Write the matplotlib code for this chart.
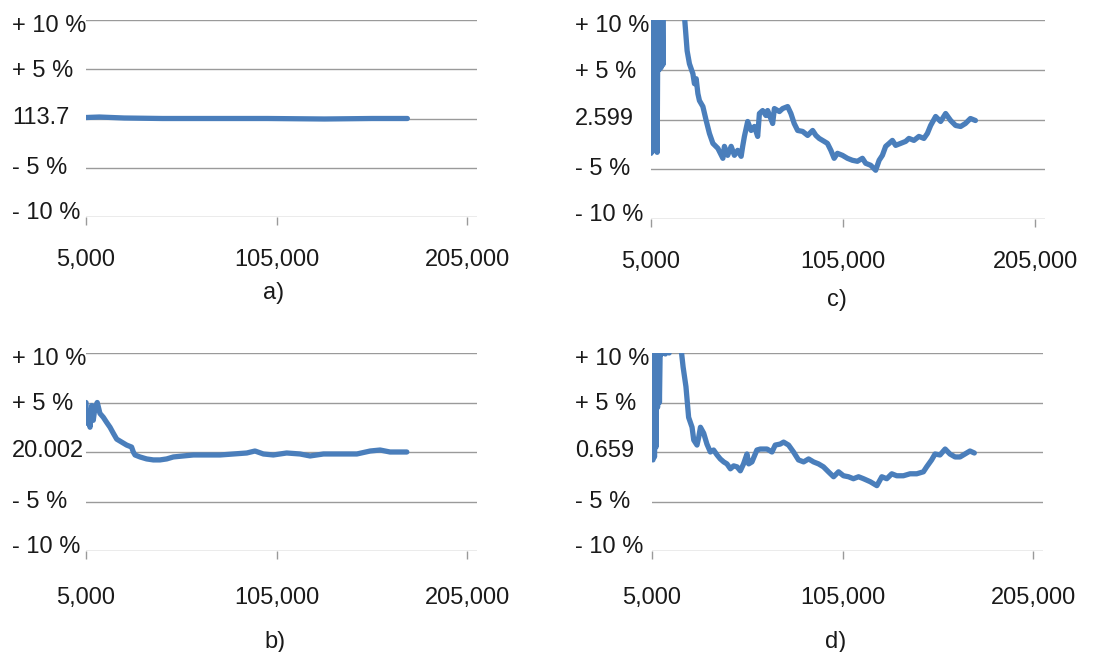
import matplotlib
matplotlib.use('Agg')
import matplotlib.pyplot as plt
import matplotlib.transforms as mtransforms

# convergence of four estimates, deviation from final value in %
x_a = [5000, 12000, 25000, 45000, 70000, 100000, 130000, 155000, 173500]
y_a = [0.1, 0.15, 0.05, 0.0, 0.0, 0.0, -0.05, 0.0, 0.0]

x_b = [5000, 5300, 6200, 7100, 8000, 8800, 9700, 10900, 12300, 14100, 15800,
       17600, 19300, 21100, 23700, 26300, 28900, 29800, 30700, 33300, 36800,
       40300, 43800, 47300, 50800, 56000, 61300, 68300, 75300, 82300, 89300,
       93600, 98000, 103200, 110200, 117200, 122500, 129500, 138200, 147000,
       154000, 159200, 164400, 173200]
y_b = [5.0, 2.9, 3.9, 2.5, 4.7, 3.2, 4.5, 5.0, 3.9, 3.5, 3.0,
       2.5, 1.9, 1.3, 1.0, 0.7, 0.5, 0.0, -0.3, -0.5, -0.7,
       -0.8, -0.8, -0.7, -0.5, -0.4, -0.3, -0.3, -0.3, -0.2, -0.1,
       0.1, -0.2, -0.3, -0.1, -0.2, -0.4, -0.2, -0.2, -0.2,
       0.1, 0.2, 0.0, 0.0]

x_c = [5000, 5400, 5800, 6200, 6600, 7000, 7400, 7800, 8200, 8700, 9200,
       9700, 10200, 10700, 11200, 11500, 21500, 22600, 23800, 25000, 26800,
       27600, 28500, 29400, 30200, 32000, 33700, 35400, 37200, 39800, 42400,
       43200, 44900, 46700, 48400, 50100, 51900, 52700, 53600, 55300, 57100,
       58800, 60500, 61400, 63100, 64800, 65700, 68300, 69200, 71800, 73500,
       76100, 77800, 79500, 81300, 83900, 86500, 89100, 90800, 92500, 95100,
       96800, 98600, 100300, 102000, 104600, 107200, 109800, 112400, 115000,
       116700, 119300, 121900, 123700, 125400, 127100, 128900, 130600,
       132300, 134900, 137500, 139200, 141800, 144400, 147000, 148800,
       150500, 153100, 155700, 158300, 160900, 163500, 166100, 168600,
       171200, 173800]
y_c = [-3.4, 14, -3.2, 14, -3.0, 14, -2.5, 14, -3.3, 14, 5.0,
       14, 5.2, 14, 5.5, 14, 14, 9.9, 6.9, 5.6, 4.6,
       3.6, 4.1, 2.6, 1.9, 1.3, -0.1, -1.4, -2.4, -2.9, -3.9,
       -2.7, -3.6, -2.7, -3.6, -3.1, -3.7, -2.7, -1.7, -0.2, -1.1,
       -0.7, -1.7, 0.6, 0.9, 0.4, 0.9, -0.4, 1.1, 0.8, 1.1,
       1.3, 0.6, -0.4, -1.1, -1.2, -1.6, -1.1, -1.6, -1.9, -2.2,
       -2.4, -3.1, -3.9, -3.4, -3.6, -3.9, -4.1, -4.2, -3.9,
       -4.4, -4.6, -5.1, -4.1, -3.6, -2.7, -2.4, -2.1,
       -2.6, -2.4, -2.2, -1.9, -2.1, -1.7, -1.9, -1.4,
       -0.6, 0.3, -0.2, 0.6, -0.1, -0.6, -0.7, -0.4,
       0.1, -0.1]

x_d = [5500, 5900, 6300, 6700, 7100, 7500, 7900, 8400, 8900, 9400, 10000,
       11000, 12000, 13000, 14000, 14500, 19500, 20500, 21300, 22800, 24200,
       26000, 26900, 28600, 29500, 30400, 32100, 33800, 35600, 37300, 39100,
       40800, 42600, 44300, 46100, 47800, 49600, 51300, 53000, 54800, 55700,
       57400, 60000, 61800, 65300, 67900, 69600, 72200, 74000, 76600, 79200,
       81800, 84500, 87100, 89700, 92300, 94900, 97500, 100200, 102800,
       105400, 108000, 110600, 113300, 115900, 119400, 122900, 125500,
       128100, 130700, 133300, 136800, 140300, 143800, 147300, 149000,
       151600, 153400, 156000, 158700, 161200, 163900, 166500, 169100,
       171700, 174000]
y_d = [-0.8, 14, -0.5, 14, 0.5, 14, 4.5, 14, 5.0, 12, 9.9,
       10.1, 9.9, 10.2, 10.0, 14, 14, 10.0, 8.6, 6.6, 3.5,
       2.5, 1.2, 0.7, 1.5, 2.5, 1.9, 0.8, 0.0, 0.2, -0.3,
       -0.7, -1.0, -1.2, -1.7, -1.4, -1.5, -1.9, -1.2, -0.2, -1.2,
       -1.0, 0.2, 0.3, 0.3, 0.0, 0.7, 0.8, 1.0, 0.7, 0.0,
       -0.8, -1.0, -0.7, -1.0, -1.2, -1.5, -2.0, -2.5, -2.0,
       -2.4, -2.5, -2.7, -2.5, -2.7, -3.0, -3.4, -2.5,
       -2.7, -2.2, -2.4, -2.4, -2.2, -2.2, -2.0, -1.5,
       -0.8, -0.2, -0.3, 0.3, -0.2, -0.5, -0.5, -0.2,
       0.1, -0.1]

centre_labels = ['113.7', '20.002', '2.599', '0.659']
panel_names = ['a)', 'b)', 'c)', 'd)']
y_levels = [10, 5, 0, -5, -10]
x_ticks = [5000, 105000, 205000]

plt.rcParams['font.family'] = ['Liberation Sans', 'DejaVu Sans']
TXT = '#1a1a1a'
GRID = '#9a9a9a'
LINE = '#4a7ebb'
FS = 17

fig = plt.figure(figsize=(11.05, 6.52), dpi=100)
W, H = 1105.0, 652.0

# left, right, top, bottom of each plot area in pixels, label x, label pad,
# panel caption position
boxes = [(86, 477, 20, 217, 12, 17, (274, 293)),
         (86, 477, 353, 551, 12, 20, (275, 642)),
         (651, 1045, 20, 219, 575, 17, (837, 300)),
         (652, 1043, 353, 551, 575, 20, (836, 642))]
series = [(x_a, y_a), (x_b, y_b), (x_c, y_c), (x_d, y_d)]

for i, (box, (xs, ys)) in enumerate(zip(boxes, series)):
    l, r, t, b, lx, pad, cap = box
    ax = fig.add_axes([l / W, 1 - b / H, (r - l) / W, (b - t) / H])
    ax.set_xlim(5000, 210000)
    ax.set_ylim(-10, 10)
    for lv in y_levels:
        ax.axhline(lv, color=GRID, lw=1.0, zorder=1)
    ax.plot(xs, ys, color=LINE, lw=3.8, solid_joinstyle='round',
            solid_capstyle='round', zorder=3)
    for s in ax.spines.values():
        s.set_visible(False)
    ax.set_yticks([])
    ax.set_xticks(x_ticks)
    ax.set_xticklabels(['{:,}'.format(v) for v in x_ticks])
    ax.tick_params(axis='x', direction='out', length=6, width=1.0,
                   color=GRID, pad=pad, labelsize=FS, labelcolor=TXT)
    # y labels left aligned at figure x, nudged like the original
    tr = mtransforms.blended_transform_factory(fig.transFigure, ax.transData)
    labels = ['+ 10 %', '+ 5 %', centre_labels[i], '- 5 %', '- 10 %']
    nudge = [-0.65, -0.2, 0.1, 0.0, 0.4]
    for lv, lab, nd in zip(y_levels, labels, nudge):
        ax.text(lx / W, lv + nd, lab, transform=tr, ha='left', va='center',
                fontsize=FS, color=TXT)
    fig.text(cap[0] / W, 1 - cap[1] / H, panel_names[i], ha='center',
             va='center', fontsize=FS, color=TXT)

fig.savefig('out.png', dpi=100, facecolor='white')
